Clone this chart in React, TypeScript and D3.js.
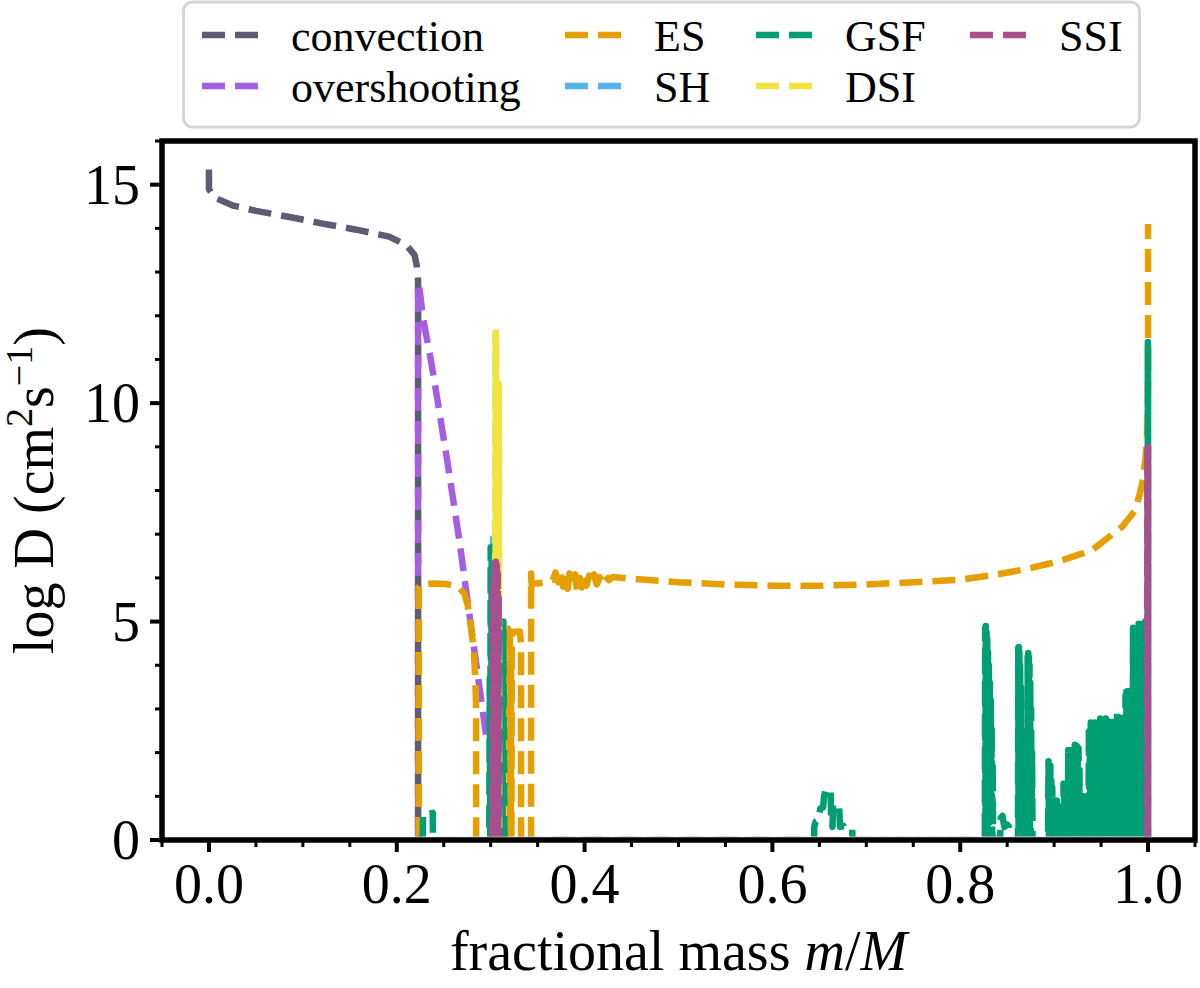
import React, { useRef, useEffect } from "react";
import * as d3 from "d3";

type Pt = [number, number];

// diffusion coefficients, log D vs fractional mass
const convection: Pt[] = [
  [0, 15.35], [0, 14.9], [0.0064, 14.7], [0.026, 14.52], [0.05, 14.4], [0.086, 14.26],
  [0.121, 14.11], [0.157, 13.97], [0.192, 13.81], [0.21, 13.62], [0.219, 13.39],
  [0.2215, 13.12], [0.2227, 12.8], [0.2227, 0],
];

const overshooting: Pt[] = [
  [0.2227, 0], [0.2227, 12.7], [0.2235, 12.74], [0.2277, 11.98], [0.2366, 10.95],
  [0.2454, 9.8], [0.2543, 8.6], [0.2632, 7.35], [0.2667, 6.85], [0.2755, 5.45],
  [0.2845, 4.05], [0.2951, 2.4],
];

const es: Pt[] = [
  [0.2234, 0], [0.2234, 5.8], [0.226, 5.86], [0.24, 5.87], [0.2525, 5.86], [0.265, 5.8],
  [0.272, 5.64], [0.2755, 5.38], [0.279, 4.88], [0.282, 4.35], [0.2837, 3.66], [0.2845, 3.0],
  [0.2845, 0], [0.3133, 0], [0.3135, 4.8], [0.3185, 4.84], [0.3205, 4.6], [0.3207, 0],
  [0.3211, 4.42], [0.3214, 0], [0.3218, 4.42], [0.3221, 0], [0.3225, 4.4], [0.3228, 4.76],
  [0.331, 4.77], [0.3323, 4.5], [0.3323, 0], [0.343, 0], [0.343, 6.1], [0.3435, 5.88],
  [0.35, 5.87], [0.358, 5.9], [0.364, 5.95],
  [0.366, 5.95], [0.369, 6.12], [0.372, 5.9], [0.374, 6.15], [0.377, 5.8], [0.379, 6.05],
  [0.382, 5.75], [0.384, 6.1], [0.387, 5.85], [0.39, 6.08], [0.392, 5.7], [0.395, 6.0],
  [0.397, 5.78], [0.4, 6.1], [0.402, 5.82], [0.405, 6.05], [0.408, 5.9], [0.41, 6.08],
  [0.413, 5.85], [0.416, 6.02], [0.419, 5.9], [0.422, 6.05], [0.426, 5.95], [0.43, 6.02],
  [0.45, 5.98], [0.5, 5.9], [0.55, 5.85], [0.6, 5.82], [0.65, 5.82], [0.7, 5.85],
  [0.75, 5.9], [0.8, 5.96], [0.834, 6.06], [0.87, 6.2], [0.905, 6.38], [0.94, 6.63],
  [0.9724, 7.17], [0.9866, 7.55], [0.9936, 8.13], [0.9973, 8.72], [0.9995, 9.5],
  [1.0, 10.5], [1.0, 14.1],
];

const sh: Pt[] = [[0.302, 0], [0.3025, 6.9], [0.303, 0]];

const gsf: Pt[] = [
  [0.2276, 0], [0.228, 0.6], [0.231, 0.62], [0.234, 0.6], [0.2383, 0.62], [0.2385, 0],
  [0.2985, 0], [0.299, 3.7], [0.2995, 0], [0.3, 6.7], [0.3005, 0], [0.301, 6.5], [0.3015, 0],
  [0.302, 6.4], [0.3025, 0], [0.303, 6.3], [0.3035, 0], [0.304, 6.2], [0.3045, 0],
  [0.305, 6.1], [0.3055, 0], [0.306, 6.0], [0.3065, 0], [0.307, 5.9], [0.3075, 0],
  [0.308, 5.6], [0.3085, 0], [0.3095, 5.0], [0.31, 0], [0.3105, 5.05], [0.311, 0],
  [0.312, 4.9], [0.3125, 0], [0.3135, 5.0], [0.3147, 0],
  [0.6444, 0], [0.6446, 0.3], [0.646, 0.42], [0.649, 0.45], [0.651, 0.72], [0.654, 0.75],
  [0.655, 1.0], [0.657, 1.18], [0.66, 1.16], [0.662, 1.1], [0.6625, 0.5], [0.664, 0.3],
  [0.6645, 0.8], [0.668, 0.82], [0.671, 0.8], [0.672, 0.3], [0.676, 0.32], [0.677, 0.27],
  [0.681, 0.27], [0.685, 0.25], [0.6852, 0], [0.697, 0], [0.6985, 0.15], [0.6995, 0],
  [0.796, 0], [0.797, 0.1], [0.798, 0],
  [0.8262, 0], [0.8265, 4.85], [0.8268, 0], [0.8272, 4.9], [0.8276, 0.5], [0.828, 4.8],
  [0.8284, 0.3], [0.8288, 4.6], [0.8292, 0.2], [0.8296, 4.3], [0.83, 0], [0.8305, 4.0],
  [0.831, 0.4], [0.8315, 3.6], [0.832, 0], [0.8325, 3.2], [0.833, 0.5], [0.8335, 2.6],
  [0.834, 0], [0.8345, 1.8], [0.835, 0],
  [0.8425, 0], [0.843, 0.5], [0.845, 0.55], [0.847, 0.3], [0.85, 0.35], [0.852, 0.3], [0.8525, 0],
  [0.8615, 0], [0.8618, 4.4], [0.8621, 0.3], [0.8624, 4.42], [0.8627, 0.2], [0.863, 4.3],
  [0.8634, 0], [0.8638, 4.0], [0.8642, 0.5], [0.8646, 3.5], [0.865, 0], [0.8655, 2.5], [0.866, 0],
  [0.8715, 0], [0.8718, 4.2], [0.8721, 0.2], [0.8724, 4.28], [0.8727, 0.4], [0.873, 4.2],
  [0.8734, 0], [0.8738, 4.0], [0.8742, 0.3], [0.8746, 3.6], [0.875, 0], [0.8755, 3.0],
  [0.876, 0.5], [0.8765, 2.0], [0.877, 0],
  [0.8935, 0], [0.894, 1.8], [0.8945, 0], [0.895, 1.82], [0.8955, 0], [0.896, 1.7],
  [0.8965, 0], [0.897, 1.5], [0.8975, 0], [0.898, 1.2], [0.8985, 0],
  [0.899, 0.9], [0.8995, 0], [0.9, 0.85], [0.9005, 0], [0.901, 0.85], [0.9015, 0], [0.902, 0.9],
  [0.9025, 0], [0.903, 0.9], [0.9035, 0], [0.904, 0.7], [0.9045, 0], [0.905, 0.6],
  [0.906, 0], [0.907, 0.45], [0.908, 0], [0.909, 0.5], [0.9095, 0],
  [0.91, 1.29], [0.9105, 0], [0.911, 1.2], [0.9115, 0], [0.912, 1.25], [0.9125, 0],
  [0.913, 1.29], [0.9135, 0], [0.914, 1.3], [0.9145, 0],
  [0.915, 2.06], [0.9155, 0], [0.916, 1.9], [0.9165, 0], [0.917, 2.0], [0.9175, 0],
  [0.918, 1.95], [0.9185, 0], [0.919, 2.06], [0.9195, 0], [0.92, 1.8], [0.9205, 0],
  [0.921, 1.77], [0.9215, 0],
  [0.922, 2.18], [0.9225, 0], [0.923, 2.1], [0.9235, 0], [0.924, 2.15], [0.9245, 0],
  [0.925, 2.0], [0.9255, 0], [0.926, 2.1], [0.9265, 0], [0.927, 1.6], [0.9275, 0],
  [0.928, 1.0], [0.9285, 0], [0.929, 0.95], [0.9295, 0], [0.93, 0.95], [0.9305, 0],
  [0.931, 1.0], [0.9315, 0], [0.932, 1.0], [0.9325, 0], [0.933, 0.9], [0.9335, 0],
  [0.934, 0.9], [0.9345, 0], [0.935, 1.0], [0.9355, 0], [0.936, 1.0], [0.9365, 0],
  [0.937, 2.6], [0.9375, 0], [0.938, 2.5], [0.9385, 0], [0.939, 2.69], [0.9395, 0],
  [0.94, 2.6], [0.9405, 0], [0.941, 2.65], [0.9415, 0], [0.942, 2.55], [0.9425, 0],
  [0.943, 2.69], [0.9435, 0], [0.944, 2.4], [0.9445, 0], [0.945, 2.5], [0.9455, 0],
  [0.946, 2.6], [0.9465, 0], [0.947, 2.69], [0.9475, 0], [0.948, 2.6], [0.9485, 0],
  [0.949, 2.78], [0.9495, 0], [0.95, 2.7], [0.9505, 0], [0.951, 2.75], [0.9515, 0],
  [0.952, 2.6], [0.9525, 0], [0.953, 2.7], [0.9535, 0], [0.954, 2.65], [0.9545, 0],
  [0.955, 2.78], [0.9555, 0], [0.956, 2.7], [0.9565, 0], [0.957, 2.72], [0.9575, 0],
  [0.958, 2.65], [0.9585, 0], [0.959, 2.6], [0.9595, 0], [0.96, 2.7], [0.9605, 0],
  [0.961, 2.78], [0.9615, 0], [0.962, 2.6], [0.9625, 0], [0.963, 2.7], [0.9635, 0],
  [0.964, 2.55], [0.9645, 0], [0.965, 2.5], [0.9655, 0], [0.966, 2.6], [0.9665, 0],
  [0.967, 2.93], [0.9675, 0], [0.968, 2.8], [0.9685, 0], [0.969, 2.9], [0.9695, 0],
  [0.97, 2.75], [0.9705, 0], [0.971, 2.85], [0.9715, 0], [0.972, 2.8], [0.9725, 0],
  [0.973, 2.93], [0.9735, 0], [0.974, 2.6], [0.9745, 0], [0.975, 2.4], [0.9755, 0],
  [0.976, 3.3], [0.9765, 0], [0.977, 3.4], [0.9775, 0], [0.978, 3.35], [0.9785, 0],
  [0.979, 3.41], [0.9795, 0], [0.98, 3.3], [0.9805, 0], [0.981, 3.35], [0.9815, 0],
  [0.982, 3.41], [0.9825, 0], [0.983, 3.2], [0.9835, 0],
  [0.984, 4.86], [0.9845, 0], [0.985, 4.7], [0.9855, 0], [0.986, 4.8], [0.9865, 0],
  [0.987, 4.75], [0.9875, 0], [0.988, 4.9], [0.9885, 0], [0.989, 4.85], [0.9895, 0],
  [0.99, 4.95], [0.9905, 0], [0.991, 4.9], [0.9915, 0], [0.992, 4.9], [0.9925, 0],
  [0.993, 4.95], [0.9935, 0], [0.994, 5.0], [0.9945, 0], [0.995, 4.95], [0.9955, 0],
  [0.996, 4.95], [0.9965, 0], [0.997, 5.0], [0.9975, 0], [0.998, 5.0], [0.9985, 0],
  [0.999, 5.0], [0.9995, 0], [0.9998, 11.4], [0.9999, 0], [1.0, 11.35], [1.0, 0],
];

const dsi: Pt[] = [
  [0.3045, 0], [0.305, 11.6], [0.3052, 0], [0.3054, 11.63], [0.3056, 0], [0.3058, 11.5],
  [0.306, 0], [0.3078, 0], [0.308, 10.5], [0.3082, 0], [0.3084, 10.45], [0.3086, 0],
  [0.3088, 10.4], [0.309, 0],
];

const ssi: Pt[] = [
  [0.302, 0], [0.3025, 5.9], [0.303, 0], [0.3035, 6.2], [0.304, 0], [0.3045, 6.35],
  [0.305, 0], [0.3055, 6.37], [0.306, 0], [0.3065, 6.3], [0.307, 0], [0.3075, 6.1],
  [0.308, 0], [0.3085, 5.6], [0.309, 0],
  [0.999, 0], [0.9993, 9.0], [0.9995, 0], [0.9997, 8.95], [0.9999, 0], [1.0, 9.0], [1.0, 0],
];

const seriesNames = ["convection", "overshooting", "ES", "SH", "GSF", "DSI", "SSI"];
const seriesData = [convection, overshooting, es, sh, gsf, dsi, ssi];
const seriesColors = ["#5c5c73", "#a65ee0", "#e69f00", "#56b4e9", "#009e73", "#f0e442", "#a84f8f"];

const xTicks = [0, 0.2, 0.4, 0.6, 0.8, 1.0];
const yTicks = [0, 5, 10, 15];

const FONT = "'Liberation Serif', 'Times New Roman', serif";

const App: React.FC = () => {
  const svgRef = useRef<SVGSVGElement>(null);
  const width = 1200;
  const height = 988;
  const plot = { left: 162, right: 1195, top: 141, bottom: 840 };

  useEffect(() => {
    if (!svgRef.current) return;
    const svg = d3.select(svgRef.current);
    svg.selectAll("*").remove();

    const x = d3.scaleLinear().domain([-0.05, 1.05]).range([plot.left, plot.right]);
    const y = d3.scaleLinear().domain([0, 16]).range([plot.bottom, plot.top]);

    svg.append("rect").attr("width", width).attr("height", height).attr("fill", "#fff");

    // clip a little above the bottom spine so the zero runs stay hidden
    svg
      .append("clipPath")
      .attr("id", "plotclip")
      .append("rect")
      .attr("x", plot.left)
      .attr("y", plot.top)
      .attr("width", plot.right - plot.left)
      .attr("height", plot.bottom - plot.top - 3.5);

    const line = d3
      .line<Pt>()
      .x((d) => x(d[0]))
      .y((d) => y(d[1]));

    const lines = svg.append("g").attr("clip-path", "url(#plotclip)");
    seriesData.forEach((data, i) => {
      lines
        .append("path")
        .datum(data)
        .attr("d", line)
        .attr("fill", "none")
        .attr("stroke", seriesColors[i])
        .attr("stroke-width", 6.5)
        .attr("stroke-dasharray", "23,10")
        .attr("stroke-linejoin", "round")
        .attr("stroke-linecap", "butt");
    });

    // x ticks
    const ax = svg.append("g");
    d3.range(-1, 22)
      .map((k) => k * 0.05)
      .forEach((v) => {
        const major = xTicks.some((t) => Math.abs(t - v) < 1e-6);
        ax.append("line")
          .attr("x1", x(v))
          .attr("x2", x(v))
          .attr("y1", plot.bottom)
          .attr("y2", plot.bottom + (major ? 12 : 7))
          .attr("stroke", "#000")
          .attr("stroke-width", major ? 4 : 3);
      });
    xTicks.forEach((v) => {
      ax.append("text")
        .attr("x", x(v))
        .attr("y", 903)
        .attr("text-anchor", "middle")
        .attr("font-family", FONT)
        .attr("font-size", 56)
        .text(d3.format(".1f")(v));
    });

    // y ticks
    d3.range(0, 17).forEach((v) => {
      const major = yTicks.includes(v);
      ax.append("line")
        .attr("x1", plot.left)
        .attr("x2", plot.left - (major ? 12 : 7))
        .attr("y1", y(v))
        .attr("y2", y(v))
        .attr("stroke", "#000")
        .attr("stroke-width", major ? 4 : 3);
    });
    yTicks.forEach((v) => {
      ax.append("text")
        .attr("x", 140)
        .attr("y", y(v) + 19)
        .attr("text-anchor", "end")
        .attr("font-family", FONT)
        .attr("font-size", 56)
        .text(String(v));
    });

    // frame
    svg
      .append("rect")
      .attr("x", plot.left)
      .attr("y", plot.top)
      .attr("width", plot.right - plot.left)
      .attr("height", plot.bottom - plot.top)
      .attr("fill", "none")
      .attr("stroke", "#000")
      .attr("stroke-width", 5.5);

    // x label
    const xl = svg
      .append("text")
      .attr("x", (plot.left + plot.right) / 2)
      .attr("y", 970)
      .attr("text-anchor", "middle")
      .attr("font-family", FONT)
      .attr("font-size", 56);
    xl.append("tspan").text("fractional mass ");
    xl.append("tspan").attr("font-style", "italic").text("m");
    xl.append("tspan").text("/");
    xl.append("tspan").attr("font-style", "italic").text("M");

    // y label
    const yl = svg
      .append("text")
      .attr("transform", `translate(53,${(plot.top + plot.bottom) / 2}) rotate(-90)`)
      .attr("text-anchor", "middle")
      .attr("font-family", FONT)
      .attr("font-size", 56);
    yl.append("tspan").text("log D (cm");
    yl.append("tspan").attr("font-size", 38).attr("dy", -21).text("2");
    yl.append("tspan").attr("dy", 21).text("s");
    yl.append("tspan").attr("font-size", 38).attr("dy", -21).text("\u22121");
    yl.append("tspan").attr("dy", 21).text(")");

    // legend
    const lg = svg.append("g");
    lg.append("rect")
      .attr("x", 183.5)
      .attr("y", 2)
      .attr("width", 956)
      .attr("height", 125)
      .attr("rx", 9)
      .attr("fill", "#fff")
      .attr("stroke", "#d6d6d6")
      .attr("stroke-width", 3);
    const colHandle = [202, 565, 756, 970];
    const rowBase = [51, 102];
    seriesNames.forEach((name, i) => {
      const col = Math.floor(i / 2);
      const row = i % 2;
      const hx = colHandle[col];
      const by = rowBase[row];
      lg.append("line")
        .attr("x1", hx)
        .attr("x2", hx + 56)
        .attr("y1", by - 16)
        .attr("y2", by - 16)
        .attr("stroke", seriesColors[i])
        .attr("stroke-width", 6.5)
        .attr("stroke-dasharray", "23,10");
      lg.append("text")
        .attr("x", hx + 89)
        .attr("y", by)
        .attr("font-family", FONT)
        .attr("font-size", 44)
        .text(name);
    });
  }, []);

  return (
    <div style={{ position: "absolute", left: 0, top: 0 }}>
      <svg ref={svgRef} width={width} height={height}></svg>
    </div>
  );
};

export default App;
